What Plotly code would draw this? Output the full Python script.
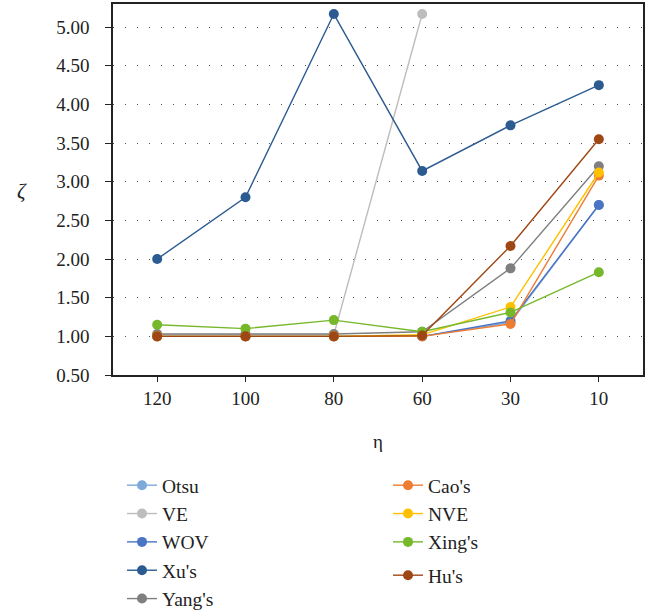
import plotly.graph_objects as go

categories = ["120", "100", "80", "60", "30", "10"]

otsu = [1.00, 1.00, 1.00, 1.00, 1.18, 2.70]
ve = [1.02, 1.02, 1.02, 5.17, None, None]
wov = [1.00, 1.00, 1.00, 1.00, 1.20, 2.70]
xus = [2.00, 2.80, 5.17, 3.14, 3.73, 4.25]
yangs = [1.03, 1.03, 1.03, 1.06, 1.88, 3.20]
caos = [1.00, 1.00, 1.00, 1.00, 1.16, 3.08]
nve = [1.00, 1.00, 1.00, 1.02, 1.38, 3.12]
xings = [1.15, 1.10, 1.21, 1.06, 1.31, 1.83]
hus = [1.00, 1.00, 1.00, 1.01, 2.17, 3.55]

y_ticks = [0.5, 1.0, 1.5, 2.0, 2.5, 3.0, 3.5, 4.0, 4.5, 5.0]

series = [
    ("Otsu", otsu, "#7EA9DB", "legend"),
    ("VE", ve, "#BDBDBD", "legend"),
    ("WOV", wov, "#4A74C4", "legend"),
    ("Xu's", xus, "#2C5B91", "legend"),
    ("Yang's", yangs, "#7F7F7F", "legend"),
    ("Cao's", caos, "#ED7D31", "legend2"),
    ("NVE", nve, "#FFC000", "legend2"),
    ("Xing's", xings, "#76B82A", "legend2"),
    ("Hu's", hus, "#9E4714", "legend3"),
]

FONT = "Liberation Serif"

fig = go.Figure()
for name, vals, color, leg in series:
    fig.add_trace(go.Scatter(
        x=categories, y=vals, name=name, mode="lines+markers",
        line=dict(color=color, width=1.4),
        marker=dict(color=color, size=10),
        legend=leg, legendgroup=name,
        connectgaps=False,
    ))

PLOT_L, PLOT_B, PLOT_W, PLOT_H = 113, 375, 530, 371


def leg(xpix, top_pix):
    return dict(
        x=(xpix - PLOT_L) / PLOT_W, y=(PLOT_B - top_pix) / PLOT_H,
        xanchor="left", yanchor="top",
        font=dict(family=FONT, size=19.5, color="#222"),
        tracegroupgap=0, traceorder="grouped",
        bgcolor="rgba(0,0,0,0)",
    )


fig.update_layout(
    width=660, height=614,
    margin=dict(l=113, r=17, t=4, b=239, autoexpand=False),
    paper_bgcolor="white", plot_bgcolor="white",
    font=dict(family=FONT, size=19, color="#222"),
    showlegend=True,
    legend=leg(122, 466),
    legend2=leg(388, 466),
    legend3=leg(388, 556),
    xaxis=dict(
        type="category", range=[-0.5, 5.5],
        showline=True, mirror=True, linecolor="#222", linewidth=1.5,
        ticks="outside", ticklen=5, tickcolor="#222",
        showgrid=False, zeroline=False,
        tickfont=dict(family=FONT, size=19, color="#222"),
    ),
    yaxis=dict(
        range=[0.5, 5.3], tickvals=y_ticks, tickformat=".2f",
        showline=True, mirror=True, linecolor="#222", linewidth=1.5,
        ticks="outside", ticklen=6, tickcolor="#222",
        ticklabelstandoff=12,
        showgrid=True, gridcolor="#555", gridwidth=1, griddash="1px,11px",
        zeroline=False,
        tickfont=dict(family=FONT, size=19, color="#222"),
    ),
    annotations=[
        dict(text="<i>ζ</i>", x=(22 - PLOT_L) / PLOT_W, y=(PLOT_B - 191) / PLOT_H,
             xref="paper", yref="paper", xanchor="center", yanchor="middle",
             showarrow=False, font=dict(family=FONT, size=21, color="#222")),
        dict(text="η", x=(378 - PLOT_L) / PLOT_W, y=(PLOT_B - 441) / PLOT_H,
             xref="paper", yref="paper", xanchor="center", yanchor="middle",
             showarrow=False, font=dict(family=FONT, size=19, color="#222")),
    ],
)

fig.write_html("out.html")
